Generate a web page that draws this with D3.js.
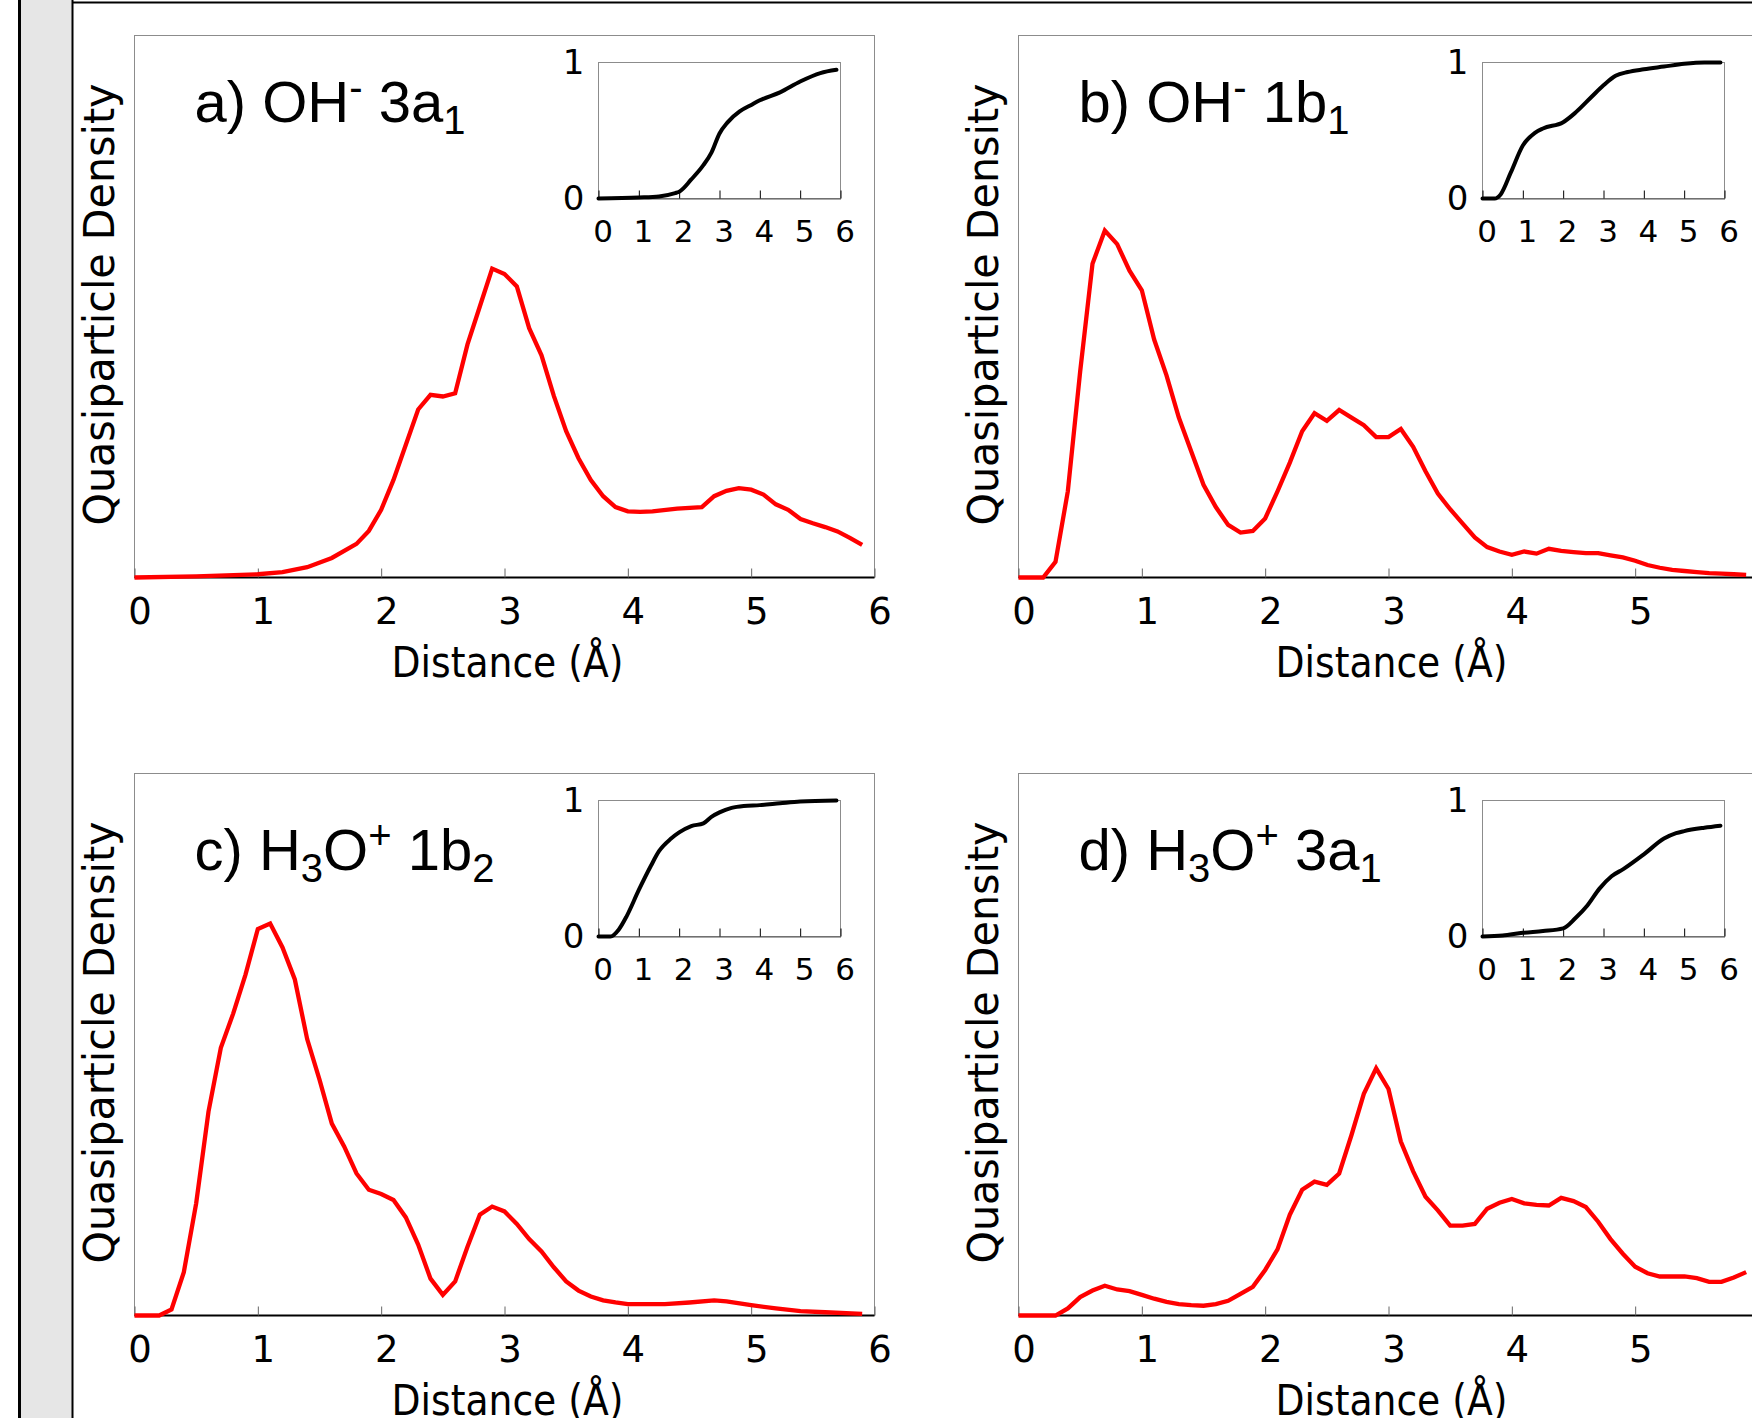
<!DOCTYPE html>
<html>
<head>
<meta charset="utf-8">
<script src="https://cdn.jsdelivr.net/npm/d3@7"></script>
<style>
  html, body { margin: 0; padding: 0; background: #ffffff; }
  svg { display: block; }
</style>
</head>
<body>
<svg id="chart" width="1752" height="1418"></svg>
<script>
var xTicks = [0, 1, 2, 3, 4, 5, 6];
var insetYTicks = [0, 1];
var xLabel = "Distance (\u00c5)";
var yLabel = "Quasiparticle Density";

// a) OH- 3a1
var titleA = [["a) OH", ""], ["-", "sup"], [" 3a", ""], ["1", "sub"]];
var distA = [0, 0.5, 1.0, 1.2, 1.4, 1.6, 1.8, 1.9, 2.0, 2.1, 2.2, 2.3, 2.4, 2.5, 2.6, 2.7, 2.8, 2.9, 3.0, 3.1, 3.2, 3.3, 3.4, 3.5, 3.6, 3.7, 3.8, 3.9, 4.0, 4.1, 4.2, 4.4, 4.6, 4.7, 4.8, 4.9, 5.0, 5.1, 5.2, 5.3, 5.4, 5.5, 5.6, 5.7, 5.8, 5.9];
var densA = [0, 0.002, 0.006, 0.01, 0.019, 0.036, 0.062, 0.086, 0.125, 0.18, 0.245, 0.31, 0.337, 0.334, 0.34, 0.43, 0.5, 0.57, 0.56, 0.537, 0.46, 0.41, 0.335, 0.27, 0.22, 0.18, 0.15, 0.13, 0.122, 0.121, 0.122, 0.127, 0.13, 0.15, 0.16, 0.165, 0.162, 0.153, 0.135, 0.125, 0.108, 0.1, 0.093, 0.085, 0.073, 0.06];
var cumDistA = [0, 1.0, 1.5, 1.9, 2.0, 2.3, 2.6, 2.8, 3.0, 3.2, 3.5, 3.8, 4.0, 4.5, 5.0, 5.5, 5.9];
var cumA = [0, 0.007, 0.015, 0.04, 0.05, 0.14, 0.245, 0.337, 0.478, 0.56, 0.64, 0.69, 0.722, 0.78, 0.86, 0.922, 0.946];

// b) OH- 1b1
var titleB = [["b) OH", ""], ["-", "sup"], [" 1b", ""], ["1", "sub"]];
var distB = [0, 0.2, 0.3, 0.4, 0.5, 0.6, 0.7, 0.8, 0.9, 1.0, 1.1, 1.2, 1.3, 1.4, 1.5, 1.6, 1.7, 1.8, 1.9, 2.0, 2.1, 2.2, 2.3, 2.4, 2.5, 2.6, 2.7, 2.8, 2.9, 3.0, 3.1, 3.2, 3.3, 3.4, 3.5, 3.6, 3.7, 3.8, 3.9, 4.0, 4.1, 4.2, 4.3, 4.4, 4.5, 4.6, 4.7, 4.8, 4.9, 5.0, 5.1, 5.2, 5.3, 5.4, 5.5, 5.6, 5.7, 5.8, 5.9];
var densB = [0, 0, 0.029, 0.159, 0.38, 0.579, 0.64, 0.615, 0.566, 0.53, 0.439, 0.373, 0.295, 0.233, 0.171, 0.13, 0.097, 0.083, 0.086, 0.109, 0.159, 0.212, 0.27, 0.303, 0.289, 0.309, 0.295, 0.281, 0.259, 0.259, 0.274, 0.241, 0.196, 0.155, 0.126, 0.1, 0.074, 0.056, 0.048, 0.042, 0.048, 0.044, 0.053, 0.049, 0.047, 0.045, 0.045, 0.041, 0.037, 0.031, 0.023, 0.018, 0.014, 0.012, 0.01, 0.008, 0.007, 0.006, 0.005];
var cumDistB = [0, 0.3, 0.45, 0.7, 1.0, 1.3, 1.5, 2.0, 2.3, 2.7, 3.0, 3.3, 3.6, 4.0, 4.5, 5.0, 5.5, 5.9];
var cumB = [0, 0, 0.03, 0.19, 0.39, 0.483, 0.515, 0.561, 0.63, 0.746, 0.832, 0.902, 0.93, 0.95, 0.97, 0.99, 1.0, 1.0];

// c) H3O+ 1b2
var titleC = [["c) H", ""], ["3", "sub"], ["O", ""], ["+", "sup"], [" 1b", ""], ["2", "sub"]];
var distC = [0, 0.2, 0.3, 0.4, 0.5, 0.6, 0.7, 0.8, 0.9, 1.0, 1.1, 1.2, 1.3, 1.4, 1.5, 1.6, 1.7, 1.8, 1.9, 2.0, 2.1, 2.2, 2.3, 2.4, 2.5, 2.6, 2.7, 2.8, 2.9, 3.0, 3.1, 3.2, 3.3, 3.4, 3.5, 3.6, 3.7, 3.8, 3.9, 4.0, 4.3, 4.5, 4.7, 4.8, 5.0, 5.2, 5.4, 5.6, 5.9];
var densC = [0, 0, 0.011, 0.08, 0.207, 0.376, 0.494, 0.557, 0.629, 0.713, 0.723, 0.679, 0.62, 0.51, 0.435, 0.354, 0.312, 0.262, 0.232, 0.224, 0.213, 0.181, 0.131, 0.068, 0.038, 0.063, 0.127, 0.186, 0.201, 0.192, 0.169, 0.141, 0.118, 0.089, 0.063, 0.046, 0.035, 0.028, 0.024, 0.021, 0.021, 0.024, 0.028, 0.026, 0.019, 0.013, 0.008, 0.006, 0.003];
var cumDistC = [0, 0.3, 0.5, 0.7, 1.0, 1.3, 1.5, 1.8, 2.0, 2.3, 2.6, 2.8, 3.0, 3.3, 3.6, 4.0, 4.5, 5.0, 5.9];
var cumC = [0, 0, 0.05, 0.15, 0.342, 0.52, 0.627, 0.72, 0.765, 0.812, 0.832, 0.88, 0.913, 0.946, 0.96, 0.966, 0.98, 0.993, 1.0];

// d) H3O+ 3a1
var titleD = [["d) H", ""], ["3", "sub"], ["O", ""], ["+", "sup"], [" 3a", ""], ["1", "sub"]];
var distD = [0, 0.3, 0.4, 0.5, 0.6, 0.7, 0.8, 0.9, 1.0, 1.1, 1.2, 1.3, 1.4, 1.5, 1.6, 1.7, 1.8, 1.9, 2.0, 2.1, 2.2, 2.3, 2.4, 2.5, 2.6, 2.7, 2.8, 2.9, 3.0, 3.1, 3.2, 3.3, 3.4, 3.5, 3.6, 3.7, 3.8, 3.9, 4.0, 4.1, 4.2, 4.3, 4.4, 4.5, 4.6, 4.7, 4.8, 4.9, 5.0, 5.1, 5.2, 5.3, 5.4, 5.5, 5.6, 5.7, 5.8, 5.9];
var densD = [0, 0, 0.013, 0.034, 0.046, 0.055, 0.048, 0.045, 0.038, 0.031, 0.025, 0.021, 0.019, 0.018, 0.021, 0.027, 0.04, 0.053, 0.084, 0.122, 0.186, 0.232, 0.247, 0.241, 0.262, 0.333, 0.409, 0.456, 0.418, 0.321, 0.266, 0.219, 0.194, 0.166, 0.166, 0.169, 0.197, 0.208, 0.215, 0.207, 0.204, 0.203, 0.217, 0.211, 0.2, 0.173, 0.141, 0.114, 0.09, 0.078, 0.072, 0.072, 0.072, 0.069, 0.062, 0.062, 0.07, 0.08];
var cumDistD = [0, 0.5, 1.0, 1.5, 2.0, 2.3, 2.6, 2.9, 3.2, 3.5, 4.0, 4.5, 4.8, 5.0, 5.5, 5.9];
var cumD = [0, 0.007, 0.027, 0.04, 0.06, 0.134, 0.228, 0.352, 0.443, 0.497, 0.604, 0.72, 0.76, 0.775, 0.8, 0.815];

var dim = {
    pageWidth: 1752,
    width: 740,
    height: 542,
    inset: { left: 464, top: 27, width: 242, height: 136 }
};

var svg = d3.select("#chart");

function drawBackground() {
    svg.append("rect").attr("x", 0).attr("y", 0).attr("width", 1752).attr("height", 1418).attr("fill", "#ffffff");
    svg.append("rect").attr("x", 20).attr("y", 0).attr("width", 52).attr("height", 1418).attr("fill", "#e6e6e6");
    svg.append("line").attr("x1", 19.5).attr("x2", 19.5).attr("y1", 0).attr("y2", 1418)
        .attr("stroke", "#000").attr("stroke-width", 3);
    svg.append("line").attr("x1", 72.5).attr("x2", 72.5).attr("y1", 0).attr("y2", 1418)
        .attr("stroke", "#000").attr("stroke-width", 2);
    svg.append("line").attr("x1", 72).attr("x2", 1752).attr("y1", 2.5).attr("y2", 2.5)
        .attr("stroke", "#000").attr("stroke-width", 2);
}

function drawPanel(p) {
    var g = svg.append("g").attr("transform", "translate(" + p.left + "," + p.top + ")");
    var x = d3.scaleLinear().domain([0, 6]).range([0, dim.width]);
    var y = d3.scaleLinear().domain([0, 1]).range([dim.height, 0]);

    g.append("rect")
        .attr("width", dim.width)
        .attr("height", dim.height)
        .attr("fill", "none")
        .attr("stroke", "#8c8c8c")
        .attr("stroke-width", 1);

    // labels that would fall past the right page edge are left out (figure is cropped there)
    var shownTicks = xTicks.filter(function(v) {
        return p.left + x(v) + 12 < dim.pageWidth;
    });
    var ax = g.append("g")
        .attr("transform", "translate(0," + dim.height + ")")
        .call(d3.axisBottom(x).tickValues(shownTicks).tickFormat(d3.format("d"))
            .tickSizeInner(-9).tickSizeOuter(0).tickPadding(20));
    ax.select(".domain").attr("stroke", "#000").attr("stroke-width", 2)
        .attr("d", "M0,0H" + dim.width);
    ax.selectAll(".tick line").attr("stroke", "#666");
    ax.selectAll(".tick text")
        .attr("dx", 5)
        .attr("fill", "#000")
        .attr("font-family", "'DejaVu Sans', sans-serif")
        .attr("font-size", 37);

    // axis titles
    g.append("text")
        .attr("x", 373)
        .attr("y", dim.height + 99)
        .attr("text-anchor", "middle")
        .attr("font-family", "'DejaVu Sans', sans-serif")
        .attr("font-size", 42)
        .attr("textLength", 232)
        .attr("lengthAdjust", "spacingAndGlyphs")
        .text(xLabel);

    g.append("text")
        .attr("transform", "translate(-21," + 269 + ") rotate(-90)")
        .attr("text-anchor", "middle")
        .attr("font-family", "'DejaVu Sans', sans-serif")
        .attr("font-size", 42)
        .attr("textLength", 442)
        .attr("lengthAdjust", "spacingAndGlyphs")
        .text(yLabel);

    // panel title with sub/superscripts
    var t = g.append("text")
        .attr("x", 60)
        .attr("y", p.titleY)
        .attr("font-family", "'Liberation Sans', Arial, sans-serif")
        .attr("font-size", 58);
    var shift = 0;
    p.title.forEach(function(part) {
        var want = part[1] === "sup" ? -21 : (part[1] === "sub" ? 12 : 0);
        t.append("tspan")
            .attr("dy", want - shift)
            .attr("font-size", part[1] ? 40 : 58)
            .text(part[0]);
        shift = want;
    });

    // inset: cumulative
    var ins = g.append("g").attr("transform", "translate(" + dim.inset.left + "," + dim.inset.top + ")");
    var ix = d3.scaleLinear().domain([0, 6]).range([0, dim.inset.width]);
    var iy = d3.scaleLinear().domain([0, 1]).range([dim.inset.height, 0]);

    ins.append("rect")
        .attr("width", dim.inset.width)
        .attr("height", dim.inset.height)
        .attr("fill", "#fff")
        .attr("stroke", "#8c8c8c")
        .attr("stroke-width", 1);

    var iax = ins.append("g")
        .attr("transform", "translate(0," + dim.inset.height + ")")
        .call(d3.axisBottom(ix).tickValues(xTicks).tickFormat(d3.format("d"))
            .tickSizeInner(-8).tickSizeOuter(0).tickPadding(21));
    iax.select(".domain").attr("stroke", "#555").attr("stroke-width", 1);
    iax.selectAll(".tick line").attr("stroke", "#000");
    iax.selectAll(".tick text")
        .attr("dx", 4)
        .attr("fill", "#000")
        .attr("font-family", "'DejaVu Sans', sans-serif")
        .attr("font-size", 31);

    var iay = ins.append("g")
        .call(d3.axisLeft(iy).tickValues(insetYTicks).tickFormat(d3.format("d")).tickSize(0).tickPadding(14));
    iay.select(".domain").remove();
    iay.selectAll(".tick text")
        .attr("fill", "#000")
        .attr("font-family", "'DejaVu Sans', sans-serif")
        .attr("font-size", 34);

    ins.append("path")
        .datum(d3.zip(p.cumDist, p.cum))
        .attr("fill", "none")
        .attr("stroke", "#000")
        .attr("stroke-width", 4)
        .attr("stroke-linecap", "round")
        .attr("d", d3.line()
            .curve(d3.curveMonotoneX)
            .x(function(d) { return ix(d[0]); })
            .y(function(d) { return iy(d[1]); }));

    // main density curve
    g.append("path")
        .datum(d3.zip(p.dist, p.dens))
        .attr("fill", "none")
        .attr("stroke", "#ff0000")
        .attr("stroke-width", 4.3)
        .attr("stroke-linejoin", "miter")
        .attr("d", d3.line()
            .x(function(d) { return x(d[0]); })
            .y(function(d) { return y(d[1]); }));
}

drawBackground();
drawPanel({ left: 134.5, top: 35.5, titleY: 86, title: titleA, dist: distA, dens: densA, cumDist: cumDistA, cum: cumA });
drawPanel({ left: 1018.5, top: 35.5, titleY: 86, title: titleB, dist: distB, dens: densB, cumDist: cumDistB, cum: cumB });
drawPanel({ left: 134.5, top: 773.5, titleY: 96, title: titleC, dist: distC, dens: densC, cumDist: cumDistC, cum: cumC });
drawPanel({ left: 1018.5, top: 773.5, titleY: 96, title: titleD, dist: distD, dens: densD, cumDist: cumDistD, cum: cumD });
</script>
</body>
</html>
